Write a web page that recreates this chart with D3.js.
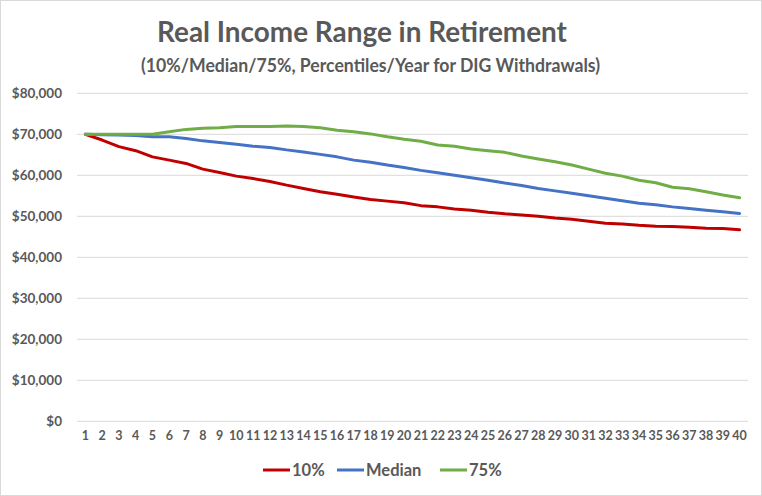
<!DOCTYPE html>
<html>
<head>
<meta charset="utf-8">
<script src="https://cdn.jsdelivr.net/npm/d3@7"></script>
<style>
  html, body { margin: 0; padding: 0; background: #fff; }
  svg { display: block; }
  text { font-family: Lato, "Open Sans", sans-serif; font-weight: bold; fill: #595959; }
</style>
</head>
<body>
<svg id="chart" width="762" height="496"></svg>
<script>
const years = d3.range(1, 41).map(String);
const p10 = [70000,68600,67000,66000,64500,63700,62900,61500,60700,59800,
             59200,58500,57600,56800,56000,55400,54700,54100,53700,53300,
             52600,52300,51800,51500,51000,50600,50300,50000,49600,49300,
             48800,48300,48100,47800,47600,47500,47300,47100,47000,46700];
const median = [70000,69900,69800,69700,69400,69400,69000,68400,68000,67600,
                67100,66800,66200,65700,65100,64500,63700,63200,62500,61900,
                61200,60600,60000,59400,58800,58100,57500,56800,56200,55600,
                55000,54400,53800,53200,52800,52300,51900,51500,51100,50700];
const p75 = [70000,70000,70000,70000,70000,70600,71200,71500,71600,71900,
             71900,71900,72000,71900,71600,71000,70600,70100,69400,68800,
             68300,67400,67100,66400,66000,65600,64700,64000,63300,62500,
             61500,60500,59800,58800,58200,57100,56700,56000,55200,54500];
const yTicks = [0,10000,20000,30000,40000,50000,60000,70000,80000];
const seriesNames = ["10%", "Median", "75%"];
const seriesColors = ["#C00000", "#4472C4", "#70AD47"];
const seriesData = [p10, median, p75];

const svg = d3.select("#chart");
const W = 762, H = 496;
const margin = {left: 77, right: 14, top: 93.3, bottom: 74.7};

// outer border
svg.append("rect").attr("x", 0.5).attr("y", 0.5).attr("width", W - 1).attr("height", H - 1)
  .attr("fill", "#fff").attr("stroke", "#d9d9d9");

const x = d3.scaleBand().domain(years).range([margin.left, W - margin.right]);
const y = d3.scaleLinear().domain([0, 80000]).range([H - margin.bottom, margin.top]);

// gridlines
svg.append("g").selectAll("line").data(yTicks).join("line")
  .attr("x1", margin.left).attr("x2", W - margin.right)
  .attr("y1", d => y(d)).attr("y2", d => y(d))
  .attr("stroke", "#d9d9d9").attr("stroke-width", 1);

// y axis
const yAxis = d3.axisLeft(y).tickValues(yTicks).tickSize(0).tickPadding(15)
  .tickFormat(d => "$" + d3.format(",")(d));
const gy = svg.append("g").attr("transform", `translate(${margin.left},0)`).call(yAxis);
gy.select(".domain").remove();
gy.selectAll("text").style("font-size", "13.5px").attr("fill", "#595959");

// x axis
const xAxis = d3.axisBottom(x).tickSize(0).tickPadding(10);
const gx = svg.append("g").attr("transform", `translate(0,${y(0)})`).call(xAxis);
gx.select(".domain").remove();
gx.selectAll("text").style("font-size", "12.5px").attr("fill", "#595959");

// lines
const line = d3.line().x((d, i) => x(years[i]) + x.bandwidth() / 2).y(d => y(d));
svg.append("g").selectAll("path").data(seriesData).join("path")
  .attr("d", d => line(d)).attr("fill", "none")
  .attr("stroke", (d, i) => seriesColors[i]).attr("stroke-width", 3)
  .attr("stroke-linejoin", "round").attr("stroke-linecap", "round");

// title
svg.append("text").attr("x", 362).attr("y", 42).attr("text-anchor", "middle")
  .style("font-size", "28px").attr("textLength", 410).attr("lengthAdjust", "spacingAndGlyphs")
  .text("Real Income Range in Retirement");
svg.append("text").attr("x", 370.5).attr("y", 72).attr("text-anchor", "middle")
  .style("font-size", "19.5px").attr("textLength", 459).attr("lengthAdjust", "spacingAndGlyphs")
  .text("(10%/Median/75%, Percentiles/Year for DIG Withdrawals)");

// legend
const legendX = [263, 337, 440];
const lg = svg.append("g").selectAll("g").data(seriesNames).join("g")
  .attr("transform", (d, i) => `translate(${legendX[i]},470)`);
lg.append("line").attr("x1", 0).attr("x2", 27).attr("y1", 0).attr("y2", 0)
  .attr("stroke", (d, i) => seriesColors[i]).attr("stroke-width", 3);
lg.append("text").attr("x", 29).attr("y", 0).attr("dy", "0.35em")
  .style("font-size", "16.5px").text(d => d);
</script>
</body>
</html>
